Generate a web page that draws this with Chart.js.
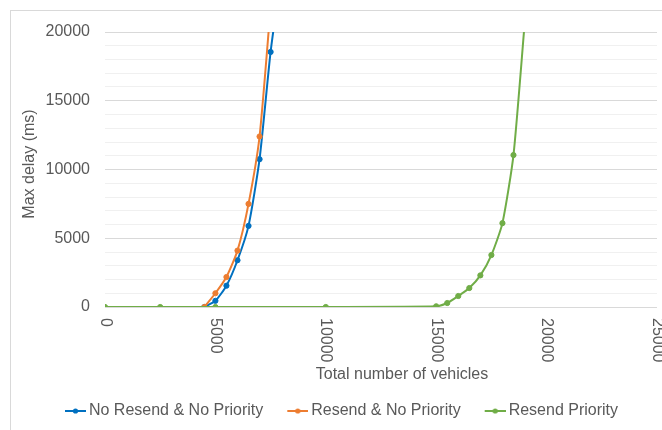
<!DOCTYPE html>
<html>
<head>
<meta charset="utf-8">
<script src="https://cdn.jsdelivr.net/npm/chart.js@4"></script>
<style>
  html, body { margin: 0; padding: 0; background: #ffffff; }
  #wrap { width: 662px; height: 430px; }
</style>
</head>
<body>
<div id="wrap"><canvas id="c" width="662" height="430"></canvas></div>
<script>
// Max delay (ms) against total number of vehicles, for three resend strategies
const seriesNames = ['No Resend & No Priority', 'Resend & No Priority', 'Resend Priority'];

const noResendVehicles = [4500, 5000, 5500, 6000, 6500, 7000, 7500, 8000];
const noResendDelay    = [0, 450, 1550, 3400, 5900, 10750, 18550, 24500];

const resendVehicles = [4500, 5000, 5500, 6000, 6500, 7000, 7500];
const resendDelay    = [0, 1000, 2180, 4100, 7500, 12400, 21800];

const priorityVehicles = [0, 2500, 5000, 10000, 15000, 15500, 16000, 16500, 17000, 17500, 18000, 18500, 19000];
const priorityDelay    = [0, 0, 0, 0, 50, 290, 800, 1380, 2300, 3780, 6100, 11050, 20500];

const xTickValues = [0, 5000, 10000, 15000, 20000, 25000];
const xTickLabels = ['0', '5000', '10000', '15000', '20000', '25000'];
const yTickValues = [0, 5000, 10000, 15000, 20000];
const yTickLabels = ['0', '5000', '10000', '15000', '20000'];

const xTitle = 'Total number of vehicles';
const yTitle = 'Max delay (ms)';

const seriesColors = ['#0070C0', '#ED7D31', '#70AD47'];
const textColor = '#595959';
const fontFamily = '"Liberation Sans", Arial, sans-serif';

function toPoints(xs, ys) {
  return xs.map((x, i) => ({ x: x, y: ys[i] }));
}

// legend key: short line with a dot, offset inside a wider canvas
function legendMarker(color) {
  const c = document.createElement('canvas');
  c.width = 50; c.height = 8;
  const g = c.getContext('2d');
  g.strokeStyle = color;
  g.lineWidth = 2;
  g.beginPath(); g.moveTo(29, 4); g.lineTo(50, 4); g.stroke();
  g.fillStyle = color;
  g.beginPath(); g.arc(39.5, 4, 2.6, 0, Math.PI * 2); g.fill();
  return c;
}
const markers = seriesColors.map(legendMarker);

function lineDataset(i, xs, ys, order) {
  return {
    label: seriesNames[i],
    data: toPoints(xs, ys),
    borderColor: seriesColors[i],
    backgroundColor: seriesColors[i],
    borderWidth: 2,
    pointRadius: 2.6,
    pointBorderWidth: 1,
    pointBackgroundColor: seriesColors[i],
    pointBorderColor: seriesColors[i],
    tension: 0.2,
    fill: false,
    order: order
  };
}

// outer frame of the chart area
const framePlugin = {
  id: 'frame',
  beforeDraw(chart) {
    const ctx = chart.ctx;
    ctx.save();
    ctx.fillStyle = '#ffffff';
    ctx.fillRect(0, 0, chart.width, chart.height);
    ctx.strokeStyle = '#d9d9d9';
    ctx.lineWidth = 1;
    ctx.strokeRect(10.5, 10.5, 1000, 1000);
    ctx.restore();
  }
};

// x tick labels turned a quarter clockwise, plus both axis titles
const axisTextPlugin = {
  id: 'axisText',
  afterDraw(chart) {
    const s = chart.scales.x;
    const area = chart.chartArea;
    const ctx = chart.ctx;
    ctx.save();
    ctx.fillStyle = textColor;
    ctx.font = '16px ' + fontFamily;
    ctx.textBaseline = 'middle';

    ctx.textAlign = 'left';
    xTickValues.forEach((v, i) => {
      ctx.save();
      ctx.translate(s.getPixelForValue(v), area.bottom + 11);
      ctx.rotate(Math.PI / 2);
      ctx.fillText(xTickLabels[i], 0, 0);
      ctx.restore();
    });

    ctx.textAlign = 'center';
    ctx.fillText(xTitle, 402, 374.5);

    ctx.save();
    ctx.translate(29.5, 164);
    ctx.rotate(-Math.PI / 2);
    ctx.fillText(yTitle, 0, 0);
    ctx.restore();

    ctx.restore();
  }
};

new Chart(document.getElementById('c'), {
  type: 'line',
  data: {
    datasets: [
      lineDataset(0, noResendVehicles, noResendDelay, 3),
      lineDataset(1, resendVehicles, resendDelay, 2),
      lineDataset(2, priorityVehicles, priorityDelay, 1)
    ]
  },
  options: {
    responsive: false,
    devicePixelRatio: 1,
    animation: false,
    layout: { padding: { left: 0, right: 3, top: 32, bottom: 1 } },
    font: { family: fontFamily, size: 16 },
    color: textColor,
    scales: {
      x: {
        type: 'linear',
        min: 0,
        max: 25000,
        grid: { display: false },
        border: { display: false },
        ticks: { display: false, stepSize: 5000 },
        afterFit(scale) { scale.height = 96; }
      },
      y: {
        type: 'linear',
        min: 0,
        max: 20000,
        border: { display: false },
        grid: {
          drawTicks: false,
          lineWidth: 1,
          color: (ctx) => (ctx.tick && yTickValues.includes(ctx.tick.value)) ? '#d9d9d9' : '#f0f0f0'
        },
        ticks: {
          stepSize: 1000,
          autoSkip: false,
          padding: 15,
          color: textColor,
          font: { family: fontFamily, size: 16 },
          callback: (value) => {
            const k = yTickValues.indexOf(value);
            return k >= 0 ? yTickLabels[k] : '';
          }
        },
        afterFit(scale) { scale.width = 105; }
      }
    },
    plugins: {
      tooltip: { enabled: false },
      legend: {
        position: 'bottom',
        labels: {
          usePointStyle: true,
          pointStyleWidth: 40,
          padding: 0,
          color: textColor,
          font: { family: fontFamily, size: 16 },
          generateLabels: (chart) => chart.data.datasets.map((ds, i) => ({
            text: ds.label,
            fillStyle: seriesColors[i],
            strokeStyle: seriesColors[i],
            fontColor: textColor,
            lineWidth: 0,
            pointStyle: markers[i],
            hidden: false,
            datasetIndex: i
          }))
        }
      }
    }
  },
  plugins: [framePlugin, axisTextPlugin]
});
</script>
</body>
</html>
